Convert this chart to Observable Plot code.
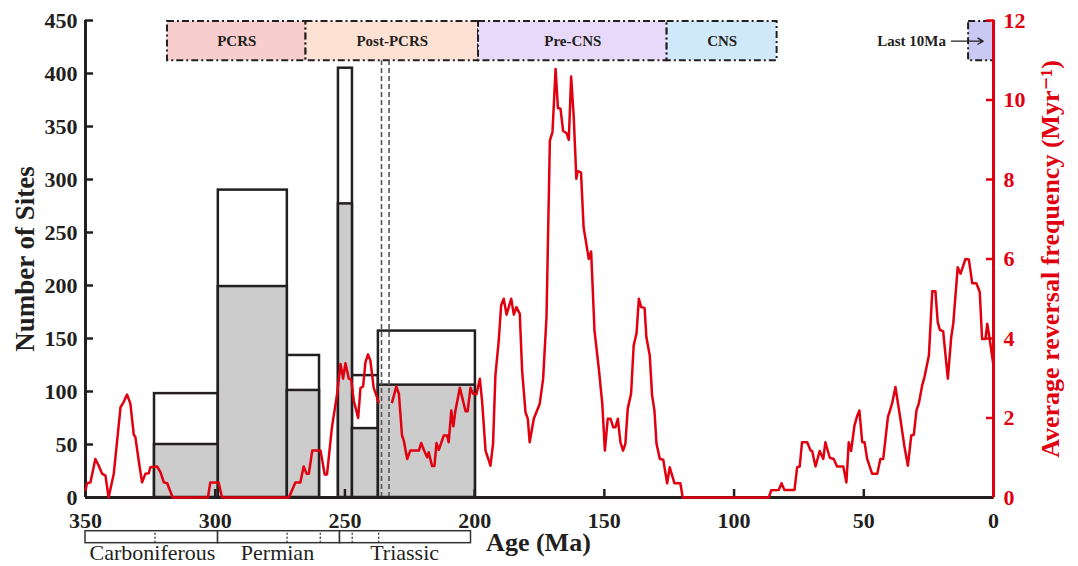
<!DOCTYPE html>
<html><head><meta charset="utf-8">
<script src="https://cdn.jsdelivr.net/npm/d3@7"></script>
<script src="https://cdn.jsdelivr.net/npm/@observablehq/plot@0.6"></script>
<style>body{margin:0;background:#fff}</style>
</head><body><div id="chart"></div>
<script>
// Histogram of palaeomagnetic sites (age bins in Ma)
const binStart = [323.4, 298.8, 272.2, 252.5, 247.1, 237.1];
const binEnd = [298.8, 272.2, 259.8, 247.1, 237.1, 199.7];
const totalSites = [98, 290, 134, 405, 115, 157];
const selectedSites = [50, 199, 101, 277, 65, 106];

// Average reversal frequency (Myr^-1) against age (Ma); NaN marks a gap
const freqAge = [350,349.4,348.1,346.2,344.9,343.6,342.3,341.1,339.1,337.8,336.5,335.3,334,332.7,331.4,330.8,329.5,328.2,326.9,325.6,325,322.4,321.1,319.8,318.5,316.4,302.8,301.9,298.7,297.4,271.6,269.1,267.2,265.9,264.8,263.9,262.6,259.4,257.8,256.9,255,253,251.7,250.7,249.8,248.5,247.6,246.6,244.9,244,243,242.1,241.1,240.2,238.9,237,234.5,231.8,230.2,229.2,228,227.3,226,224.8,221.5,220.6,219.6,218.3,217.7,216.4,215.5,214.7,213.8,211.9,210.6,210,209,208.2,207.4,205.7,204.8,203.5,202.7,201.6,200.6,199.3,198,197.1,195.8,193.9,192.9,192,190.7,189.8,188.8,187.7,185.9,184.9,183.9,182.6,181.7,180.4,179.5,178.8,177.2,174.9,173.6,172.3,171,170,168.8,167.9,166.9,165.9,164.6,163.7,162.8,161.8,160.8,160.3,159,158,156,155.1,153.8,152.2,150.8,149.8,148.7,147.6,146.6,145.7,144.8,143.8,142.8,141.9,141,139.7,138.7,137.6,136.7,135.8,134.5,133.8,132.5,131.6,130.7,129.9,128.6,127.3,125.8,124.8,123,120.7,119.8,86.6,85.7,82.8,81.7,80.6,76.7,75.7,74.7,73.8,71.8,70.5,69.9,68.6,67,65.6,64.8,63.1,61.6,60.3,57.9,56.7,55.8,54.9,53.6,52.5,51.7,50.6,49.7,48.7,46.8,44.8,43.6,42.5,40.7,39.1,37.8,35.9,34.3,33,31.7,30.7,29.7,28.8,27.5,26.6,24.9,23.6,22.4,21.5,20.7,19.4,17.6,16.3,15.5,13.8,12.7,10.8,9.5,8.2,6.6,5.3,4.4,3.1,2.4,1.4,0.1];
const freqValue = [0.19,0.36,0.38,0.97,0.80,0.60,0.55,0,0.6,1.43,2.27,2.4,2.59,2.36,1.58,1.53,0.93,0.38,0.6,0.61,0.76,0.78,0.64,0.38,0.36,0,0,0.38,0.38,0,0,0.38,0.38,0.78,0.6,0.6,1.18,1.18,0.58,0.58,1.77,2.61,3.36,2.99,3.38,2.99,2.97,2.44,2.0,2.76,2.79,3.4,3.6,3.45,2.76,2.4,NaN,2.4,2.79,2.61,1.56,1.43,0.97,1.18,1.18,1.37,1.2,1.01,1.14,0.79,0.79,1.37,1.2,1.56,1.56,1.39,2.19,1.79,2.19,2.76,2.52,2.17,2.17,2.76,2.61,2.6,2.99,2.4,1.18,0.8,1.35,3.07,3.95,4.83,5.0,4.6,5.0,4.6,4.79,4.62,3.19,2.15,1.98,1.39,1.98,2.36,2.99,4.54,8.98,9.19,10.78,9.8,9.78,9.22,9.17,9.0,10.59,9.57,8.02,8.21,8.18,6.8,6.0,6.19,4.2,3.28,2.36,1.18,1.98,1.98,1.77,1.77,1.98,1.39,1.18,1.35,2.23,2.61,3.82,4.13,5.0,4.79,4.77,4.03,3.57,2.57,2.19,1.35,0.97,0.95,0.36,0.76,0.36,0.36,0,0,0.18,0.19,0.36,0.19,0.19,0.76,0.78,1.39,1.39,1.18,1.17,0.78,1.17,0.97,1.39,1.0,0.97,0.78,0.78,0.38,1.39,1.17,1.81,2.06,2.19,1.39,1.39,0.97,0.6,0.6,0.97,0.97,2.02,2.36,2.78,1.98,1.27,0.8,1.56,1.58,2.19,2.36,2.82,3.03,3.57,5.19,5.19,4.41,4.22,4.18,2.99,4.03,4.38,5.79,5.63,6.0,5.99,5.39,5.39,5.17,3.99,3.99,4.37,3.95,3.36];

// Reversal-regime intervals (banner)
const regimeName = ["PCRS", "Post-PCRS", "Pre-CNS", "CNS", "Last 10Ma"];
const regimeStart = [318.4, 265, 198.5, 125.8, 9.6];
const regimeEnd = [265, 198.5, 125.8, 83.4, 0];
const regimeColor = ["#f8cdcd", "#fde1d3", "#e8d9fb", "#cfe8fa", "#c9c9f4"];
const regimeLabelShown = [true, true, true, true, false];

// Dashed reference ages
const dashedAges = [235.9, 233.0];

// Geological periods
const periodName = ["Carboniferous", "Permian", "Triassic"];
const periodStart = [350, 298.9, 251.9];
const periodEnd = [298.9, 251.9, 201.4];
const periodLabelAge = [324.2, 276, 227];
const stageBoundaries = [323.2, 272.3, 259.5, 247.2, 237];

// Axis ticks
const xTicks = [350, 300, 250, 200, 150, 100, 50, 0];
const yTicks = [0, 50, 100, 150, 200, 250, 300, 350, 400, 450];
const rightTicks = [0, 2, 4, 6, 8, 10, 12];

const K = 450 / 12; // frequency -> sites scale factor
const RED = "#e1000f";
const INK = "#231f20";

const bins = binStart.map((s, i) => ({s, e: binEnd[i], total: totalSites[i], sel: selectedSites[i]}));
const freq = freqAge.map((a, i) => ({age: a, v: freqValue[i] * K}));
const regimes = regimeName.map((n, i) => ({n, s: regimeStart[i], e: regimeEnd[i], c: regimeColor[i], show: regimeLabelShown[i]}));
const periods = periodName.map((n, i) => ({n, s: periodStart[i], e: periodEnd[i], mid: periodLabelAge[i]}));

const bannerLow = 412, bannerHigh = 449;
const stripLow = -43.1, stripHigh = -31.8;

const chart = Plot.plot({
  width: 1078, height: 566,
  marginLeft: 85, marginRight: 85, marginTop: 20, marginBottom: 69,
  x: {domain: [350, 0], axis: null},
  y: {domain: [0, 450], axis: null},
  style: {fontFamily: "'Liberation Serif', 'DejaVu Serif', serif", fontSize: "22px", fontWeight: "bold", color: INK, background: "white", overflow: "visible"},
  marks: [
    // banner
    Plot.rect(regimes, {x1: "s", x2: "e", y1: bannerLow, y2: bannerHigh, fill: "c", stroke: INK, strokeWidth: 2, strokeDasharray: "7,3,2,3"}),
    Plot.text(regimes.filter(d => d.show), {x: d => (d.s + d.e) / 2, y: (bannerLow + bannerHigh) / 2, text: "n", fontSize: 15, fill: INK}),
    Plot.text(["Last 10Ma"], {x: 18.3, y: (bannerLow + bannerHigh) / 2, text: d => d, textAnchor: "end", fontSize: 15, fill: INK}),
    Plot.arrow([0], {x1: 16.2, x2: 4.0, y1: (bannerLow + bannerHigh) / 2, y2: (bannerLow + bannerHigh) / 2, stroke: INK, strokeWidth: 1.3, headLength: 7}),
    // histogram
    Plot.rect(bins, {x1: "s", x2: "e", y1: 0, y2: "total", fill: "white", stroke: INK, strokeWidth: 2.5}),
    Plot.rect(bins, {x1: "s", x2: "e", y1: 0, y2: "sel", fill: "#cccccc", stroke: INK, strokeWidth: 2.5}),
    // dashed lines
    Plot.ruleX(dashedAges, {y1: 0, y2: bannerLow, stroke: "#555", strokeWidth: 1.6, strokeDasharray: "5,3"}),
    // axes
    Plot.axisX({ticks: xTicks, tickSize: 0, tickPadding: 15, tickFormat: d => d, fill: INK, label: null}),
    Plot.axisX({ticks: xTicks, tickSize: -8, tickFormat: () => "", stroke: INK, strokeWidth: 2.5, label: null}),
    Plot.axisY({ticks: yTicks, tickSize: 0, tickPadding: 8, tickFormat: d => d, fill: INK, label: null}),
    Plot.axisY({ticks: yTicks, tickSize: -8, tickFormat: () => "", stroke: INK, strokeWidth: 2.5, label: null}),
    Plot.axisY({anchor: "right", ticks: rightTicks.map(t => t * K), tickSize: 0, tickPadding: 10, tickFormat: d => Math.round(d / K), fill: RED, label: null}),
    Plot.axisY({anchor: "right", ticks: rightTicks.map(t => t * K), tickSize: -8, tickFormat: () => "", stroke: RED, strokeWidth: 2.5, label: null}),
    Plot.ruleX([350], {y1: 0, y2: 450, stroke: INK, strokeWidth: 3}),
    Plot.ruleY([0], {stroke: INK, strokeWidth: 3}),
    Plot.ruleX([0], {y1: 0, y2: 450, stroke: RED, strokeWidth: 3}),
    // reversal frequency
    Plot.line(freq, {x: "age", y: "v", stroke: RED, strokeWidth: 2.5, strokeLinejoin: "round"}),
    // geological periods strip
    Plot.rect(periods, {x1: "s", x2: "e", y1: stripLow, y2: stripHigh, fill: "white", stroke: "#333", strokeWidth: 1.5}),
    Plot.ruleX(stageBoundaries, {y1: stripLow, y2: stripHigh, stroke: "#333", strokeWidth: 1.3, strokeDasharray: "2,2"}),
    Plot.text(periods, {x: "mid", frameAnchor: "bottom", dy: 62, text: "n", fontSize: 22, fontWeight: "normal", fill: INK}),
    // titles
    Plot.text(["Age (Ma)"], {x: 175.4, frameAnchor: "bottom", dy: 53, text: d => d, fontSize: 26, fill: INK}),
    Plot.text(["Number of Sites"], {frameAnchor: "left", dx: -60, rotate: -90, textAnchor: "middle", text: d => d, fontSize: 27, fill: INK}),
    Plot.text(["Average reversal frequency (Myr\u207B\u00B9)"], {frameAnchor: "right", dx: 57, rotate: -90, textAnchor: "middle", text: d => d, fontSize: 26, fill: RED})
  ]
});
document.getElementById("chart").appendChild(chart);
</script>
</body></html>
